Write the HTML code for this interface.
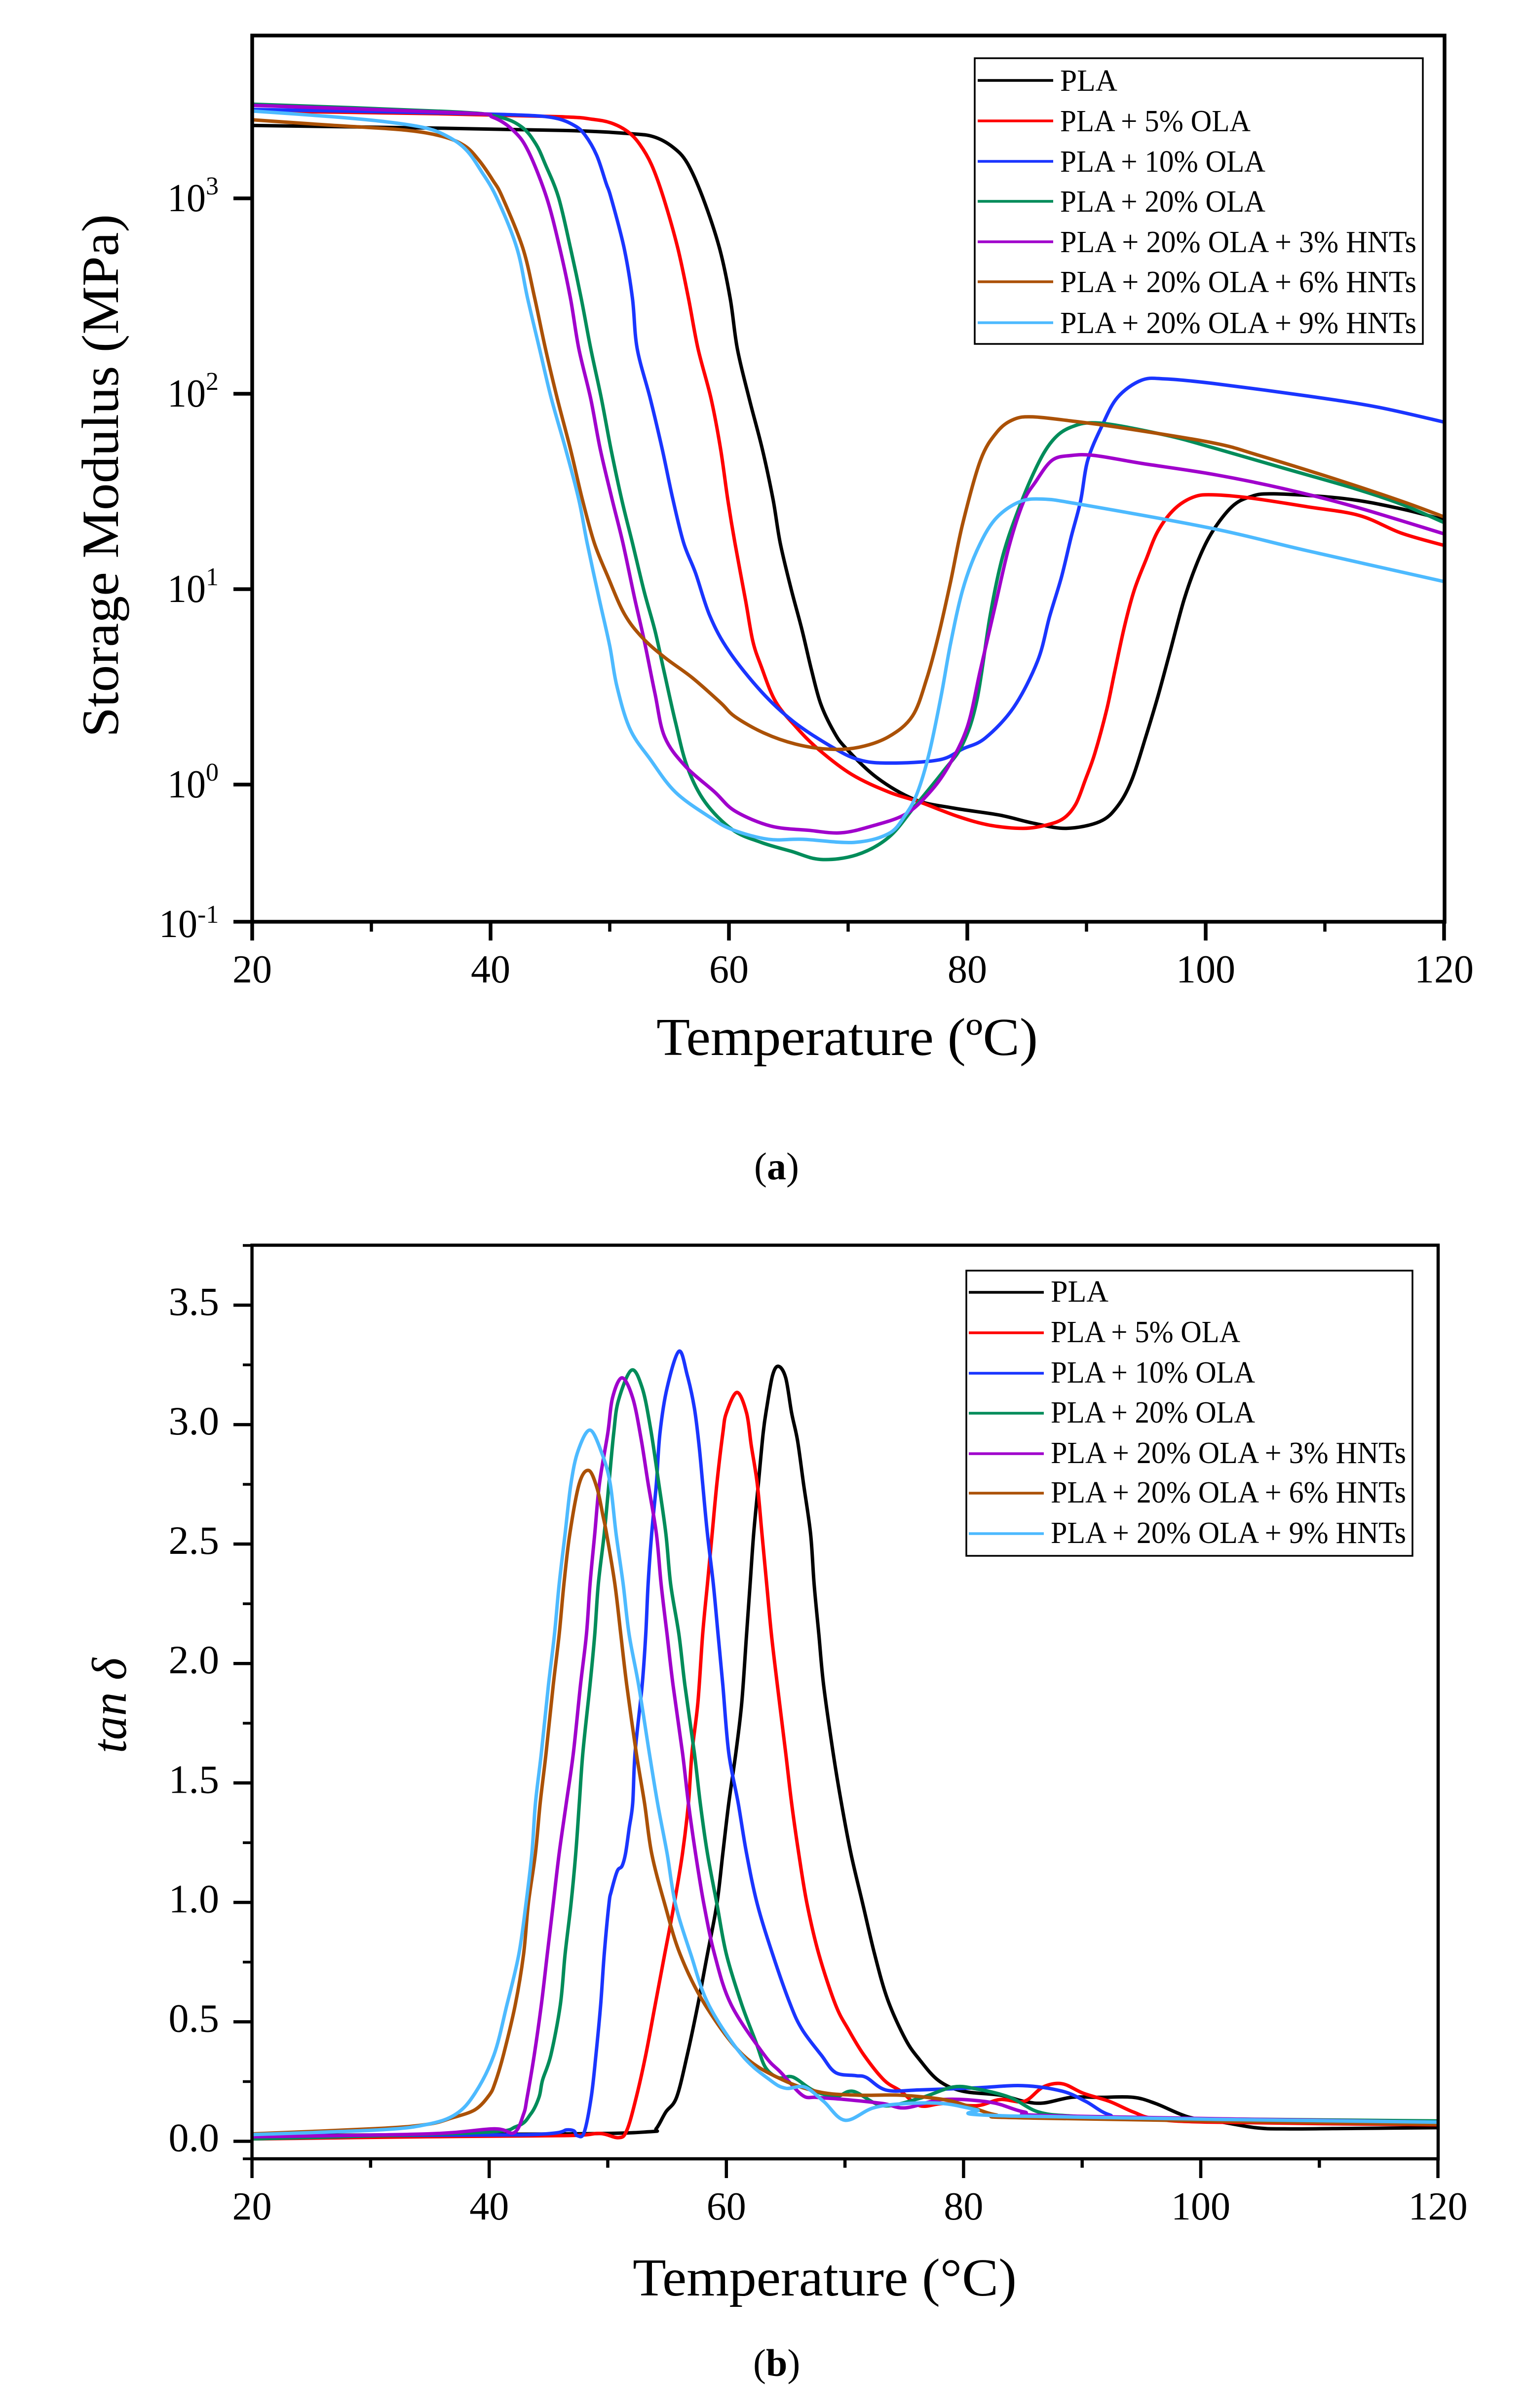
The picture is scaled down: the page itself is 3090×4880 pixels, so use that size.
<!DOCTYPE html>
<html lang="en">
<head>
<meta charset="utf-8">
<title>Storage modulus and tan delta versus temperature</title>
<style>
html,body{margin:0;padding:0;background:#fff;}
svg{display:block;}
text{font-family:"Liberation Serif",serif;fill:#000;}
</style>
</head>
<body>
<svg id="figure" xmlns="http://www.w3.org/2000/svg" width="3090" height="4880" viewBox="0 0 3090 4880">
  <rect x="0" y="0" width="3090" height="4880" fill="#fff"/>

  <g id="chartA"></g>
  <text x="1330" y="2138" font-size="108" textLength="773" lengthAdjust="spacingAndGlyphs">Temperature (ºC)</text>
  <text transform="translate(239 1494) rotate(-90)" font-size="106" textLength="1060" lengthAdjust="spacingAndGlyphs">Storage Modulus (MPa)</text>
  <g>
    <rect x="1975" y="118" width="908" height="579" fill="#fff" stroke="#000" stroke-width="3.5"/>
    <line x1="1981" x2="2134" y1="163" y2="163" stroke="#000000" stroke-width="5.5"/>
    <text x="2148" y="184" font-size="62" textLength="116" lengthAdjust="spacingAndGlyphs">PLA</text>
    <line x1="1981" x2="2134" y1="245" y2="245" stroke="#ff0000" stroke-width="5.5"/>
    <text x="2148" y="266" font-size="62" textLength="386" lengthAdjust="spacingAndGlyphs">PLA + 5% OLA</text>
    <line x1="1981" x2="2134" y1="327" y2="327" stroke="#1a35ff" stroke-width="5.5"/>
    <text x="2148" y="348" font-size="62" textLength="416" lengthAdjust="spacingAndGlyphs">PLA + 10% OLA</text>
    <line x1="1981" x2="2134" y1="408" y2="408" stroke="#008c5a" stroke-width="5.5"/>
    <text x="2148" y="429" font-size="62" textLength="416" lengthAdjust="spacingAndGlyphs">PLA + 20% OLA</text>
    <line x1="1981" x2="2134" y1="490" y2="490" stroke="#a000cc" stroke-width="5.5"/>
    <text x="2148" y="511" font-size="62" textLength="722" lengthAdjust="spacingAndGlyphs">PLA + 20% OLA + 3% HNTs</text>
    <line x1="1981" x2="2134" y1="571" y2="571" stroke="#ab5106" stroke-width="5.5"/>
    <text x="2148" y="592" font-size="62" textLength="722" lengthAdjust="spacingAndGlyphs">PLA + 20% OLA + 6% HNTs</text>
    <line x1="1981" x2="2134" y1="654" y2="654" stroke="#4dbaff" stroke-width="5.5"/>
    <text x="2148" y="675" font-size="62" textLength="722" lengthAdjust="spacingAndGlyphs">PLA + 20% OLA + 9% HNTs</text>
  </g>
  <text x="1528" y="2390" font-size="78">(<tspan font-weight="bold">a</tspan>)</text>

  <g id="chartB"></g>
  <text x="1282" y="4652" font-size="108" textLength="778" lengthAdjust="spacingAndGlyphs">Temperature (°C)</text>
  <text transform="translate(255 3553) rotate(-90)" font-size="100" font-style="italic" textLength="193" lengthAdjust="spacingAndGlyphs">tan δ</text>
  <g>
    <rect x="1958" y="2575" width="904" height="578" fill="#fff" stroke="#000" stroke-width="3.5"/>
    <line x1="1963" x2="2115" y1="2619" y2="2619" stroke="#000000" stroke-width="5.5"/>
    <text x="2129" y="2638" font-size="62" textLength="117" lengthAdjust="spacingAndGlyphs">PLA</text>
    <line x1="1963" x2="2115" y1="2701" y2="2701" stroke="#ff0000" stroke-width="5.5"/>
    <text x="2129" y="2720" font-size="62" textLength="384" lengthAdjust="spacingAndGlyphs">PLA + 5% OLA</text>
    <line x1="1963" x2="2115" y1="2783" y2="2783" stroke="#1a35ff" stroke-width="5.5"/>
    <text x="2129" y="2802" font-size="62" textLength="414" lengthAdjust="spacingAndGlyphs">PLA + 10% OLA</text>
    <line x1="1963" x2="2115" y1="2864" y2="2864" stroke="#008c5a" stroke-width="5.5"/>
    <text x="2129" y="2883" font-size="62" textLength="414" lengthAdjust="spacingAndGlyphs">PLA + 20% OLA</text>
    <line x1="1963" x2="2115" y1="2946" y2="2946" stroke="#a000cc" stroke-width="5.5"/>
    <text x="2129" y="2965" font-size="62" textLength="720" lengthAdjust="spacingAndGlyphs">PLA + 20% OLA + 3% HNTs</text>
    <line x1="1963" x2="2115" y1="3026" y2="3026" stroke="#ab5106" stroke-width="5.5"/>
    <text x="2129" y="3045" font-size="62" textLength="720" lengthAdjust="spacingAndGlyphs">PLA + 20% OLA + 6% HNTs</text>
    <line x1="1963" x2="2115" y1="3108" y2="3108" stroke="#4dbaff" stroke-width="5.5"/>
    <text x="2129" y="3127" font-size="62" textLength="720" lengthAdjust="spacingAndGlyphs">PLA + 20% OLA + 9% HNTs</text>
  </g>
  <text x="1526" y="4815" font-size="78">(<tspan font-weight="bold">b</tspan>)</text>
</svg>

<script>
// ---- Storage modulus: temperature (°C) and log10(E' / MPa) ----
const plaModT = [20,34.7,46.6,51.7,53.7,55.3,56.5,57.8,59.2,60.1,60.7,61.7,62.8,63.7,64.3,65.2,66.1,66.9,67.7,68.8,69.8,72.4,75.6,78.8,82.7,85.5,88.3,91.1,92.6,93.8,95,96,97,98.2,99.4,100.6,102.2,103.7,105.7,111.7,116.4,120];
const plaModLog = [3.373,3.36,3.347,3.331,3.315,3.262,3.181,3.005,2.747,2.49,2.232,1.975,1.717,1.459,1.237,1.005,.799,.593,.413,.271,.187,.036,-.077,-.12,-.156,-.197,-.224,-.19,-.111,.024,.25,.453,.678,.949,1.152,1.298,1.422,1.472,1.488,1.463,1.411,1.355];
const ola5ModT = [20,34.7,45.8,48.5,50.1,51.5,52.5,53.5,54.5,55.7,56.6,57.4,58.5,59.3,59.9,60.5,61.4,62,62.7,63.9,65.6,67.5,70.3,73.4,76,79.2,81.9,84.7,86.7,88.1,89.1,89.9,90.7,91.7,92.4,93.2,94,95,96,97.4,99,100.6,103.7,108.5,112.9,116.4,120];
const ola5ModLog = [3.447,3.434,3.418,3.405,3.386,3.342,3.278,3.173,3.005,2.747,2.49,2.232,1.975,1.717,1.459,1.237,.941,.735,.606,.426,.297,.181,.052,-.038,-.089,-.163,-.208,-.224,-.206,-.172,-.1,.024,.16,.385,.588,.813,.994,1.152,1.298,1.411,1.472,1.483,1.467,1.422,1.377,1.287,1.224];
const ola10ModT = [20,34.7,42.6,45.4,47,47.9,48.9,49.7,50.1,51.2,51.9,52.3,53.4,54.4,55.3,56.2,57.2,58.4,60,62.7,65.4,68.6,70.9,73.4,77.6,79.6,81.5,83.9,85.9,86.9,87.9,88.7,89.5,90.1,91.3,92.6,94.6,96.6,100.6,108.5,114.4,120];
const ola10ModLog = [3.455,3.439,3.426,3.411,3.374,3.326,3.221,3.076,3.005,2.747,2.49,2.232,1.975,1.717,1.459,1.237,1.082,.863,.683,.477,.323,.194,.127,.11,.126,.182,.238,.396,.633,.859,1.062,1.264,1.45,1.659,1.836,1.981,2.069,2.076,2.053,1.989,1.932,1.855];
const ola20ModT = [20,36.6,40.6,42.6,43.8,44.6,45.7,46.7,47.6,48.4,49.3,50.1,51,51.9,52.9,53.8,54.6,55.5,56.5,58,60.3,62.7,65.2,67.7,70.7,73.4,75.6,78,79.6,80.8,81.9,82.9,84.1,85.7,87.1,88.7,91.1,96.6,100.6,106.5,112.5,116.4,120];
const ola20ModLog = [3.482,3.444,3.418,3.366,3.278,3.173,3.005,2.747,2.49,2.232,1.975,1.717,1.459,1.237,.985,.786,.567,.323,.091,-.09,-.231,-.296,-.341,-.383,-.36,-.27,-.111,.069,.205,.43,.859,1.152,1.377,1.612,1.757,1.829,1.85,1.789,1.724,1.62,1.515,1.435,1.341];
const hnt3ModT = [20,37.8,40.2,42,43.2,44.7,45.8,46.7,47.4,48.4,49.2,50.2,51.1,52.1,52.9,53.8,54.6,56.3,58.8,60.5,63.5,66.7,69.4,72,74.8,76.8,78.4,80,81.1,82.3,83.5,84.7,85.7,87.1,88.7,90.7,94.6,100.6,106.5,112.5,120];
const hnt3ModLog = [3.476,3.437,3.415,3.342,3.237,3.005,2.747,2.49,2.232,1.975,1.717,1.459,1.237,.95,.735,.464,.245,.097,-.038,-.135,-.212,-.234,-.247,-.212,-.152,-.043,.092,.295,.588,.904,1.219,1.445,1.547,1.659,1.684,1.684,1.644,1.588,1.515,1.422,1.283];
const hnt6ModT = [20,26.7,32.7,35.9,37.8,39,40.2,41,42.7,43.7,44.6,45.6,46.7,47.7,48.7,49.8,51.2,52.7,54.6,56.9,59.3,60.5,62.9,65.6,68.4,70.9,73.4,75.4,76.6,77.6,78.6,79.6,81.1,82.5,83.9,85.5,88.7,92.6,100.6,104.5,111.3,116.4,120];
const hnt6ModLog = [3.402,3.374,3.35,3.318,3.27,3.197,3.092,3.005,2.747,2.49,2.232,1.975,1.717,1.459,1.237,1.07,.876,.754,.651,.548,.419,.348,.265,.207,.181,.191,.245,.351,.543,.768,1.039,1.332,1.659,1.805,1.869,1.882,1.861,1.829,1.749,1.684,1.555,1.451,1.37];
const hnt9ModT = [20,26.7,31.5,34.7,36.6,38,39.2,40.5,42.2,43.1,44.1,45.1,46.3,47.4,48.1,49.1,50,50.6,51.7,53.4,55.5,58.4,60.3,63.3,66.2,70.5,73.4,74.8,75.8,76.8,77.8,78.6,79.6,80.8,82.3,84.3,86.3,89.5,100.6,108.5,120];
const hnt9ModLog = [3.447,3.418,3.39,3.358,3.31,3.245,3.141,3.005,2.747,2.49,2.232,1.975,1.717,1.459,1.237,.954,.709,.503,.284,.129,-.038,-.167,-.231,-.28,-.28,-.296,-.251,-.156,-.043,.16,.453,.723,.994,1.197,1.355,1.445,1.461,1.434,1.31,1.197,1.039];

// ---- tan delta: temperature (°C) and value ----
const plaTanT = [20,46.7,53.5,54.1,54.9,55.8,56.7,57.6,58.4,59.2,59.7,60.2,60.8,61.3,61.7,62,62.3,62.7,63.1,63.4,63.9,64.4,65,65.5,66,66.5,67.1,67.4,67.8,68.2,69,69.7,70.5,71.5,72.5,73.6,75.1,76.3,77.9,79.9,83.1,85.1,86.7,89.1,91.5,94.3,96.2,99,101.8,104.6,107,113,120];
const plaTanV = [.024,.031,.04,.054,.123,.184,.361,.572,.783,.994,1.205,1.415,1.626,1.837,2.121,2.332,2.543,2.754,2.964,3.07,3.207,3.244,3.196,3.049,2.933,2.754,2.543,2.332,2.121,1.91,1.626,1.415,1.205,.994,.783,.593,.427,.341,.254,.21,.193,.167,.16,.184,.184,.184,.158,.101,.08,.057,.052,.054,.057];
const ola5TanT = [20,34.8,46.7,49.3,50.9,51.6,52.4,53.2,54,54.8,55.6,56.3,56.8,57.1,57.6,58,58.4,58.8,59.2,59.7,60,60.9,61.7,62.1,62.6,63,63.4,63.8,64.3,65,65.5,66.1,66.8,67.8,69.2,70.3,71.6,73.3,74.7,76.3,78.3,81.1,83.1,85.1,86.7,88.3,90.1,92.3,94.3,96.2,101,120];
const ola5TanV = [.01,.019,.024,.033,.015,.045,.184,.361,.572,.783,.994,1.205,1.415,1.626,1.837,2.121,2.332,2.543,2.754,2.964,3.049,3.135,3.049,2.912,2.754,2.543,2.332,2.121,1.91,1.626,1.415,1.205,.994,.783,.572,.467,.361,.256,.21,.149,.158,.149,.175,.167,.227,.241,.201,.167,.123,.094,.08,.069];
const ola10TanT = [20,42.7,46.7,47.4,48,48.6,49,49.4,49.7,50.1,50.3,50.8,51.2,51.5,51.8,52.1,52.3,52.9,53.2,53.4,53.7,54.1,54.4,55,56,56.7,57.3,57.7,58,58.4,58.9,59.3,59.7,60.2,61,61.7,62.6,63.9,65.4,66.4,68,69.2,70.9,71.8,73.5,76.3,81.1,85,88.3,90.3,92.3,95,120];
const ola10TanV = [.024,.027,.048,.024,.036,.184,.361,.572,.783,.994,1.047,1.131,1.152,1.205,1.31,1.415,1.626,1.91,2.121,2.332,2.543,2.754,2.964,3.154,3.307,3.207,3.07,2.912,2.754,2.543,2.332,2.121,1.91,1.626,1.415,1.205,.994,.783,.572,.467,.361,.288,.275,.267,.214,.215,.224,.233,.21,.167,.111,.097,.08];
const ola20TanT = [20,38.8,42.3,43.5,44.2,44.5,45.2,46,46.4,46.9,47.3,47.6,47.9,48.5,48.9,49.2,49.7,50.1,50.5,50.9,52,52.9,53.6,54.3,54.9,55.3,56,56.5,57.3,57.8,58.4,59.2,60,61.3,62.5,63.3,64.4,65.6,67.3,69.2,70.7,73.2,76.3,79.1,81.1,83.9,86.3,89.1,95,120];
const ola20TanV = [.01,.036,.062,.114,.184,.256,.361,.572,.783,.994,1.205,1.415,1.626,1.91,2.121,2.332,2.543,2.754,2.964,3.101,3.228,3.154,2.986,2.754,2.543,2.332,2.121,1.91,1.626,1.415,1.205,.994,.783,.572,.414,.309,.266,.269,.214,.187,.209,.149,.18,.227,.219,.184,.123,.106,.097,.085];
const hnt3TanT = [20,34.8,40.4,42.1,42.9,43.2,43.8,44.4,44.9,45.4,45.9,46.5,47.1,47.7,48.2,48.5,48.9,49.3,50,50.4,51.2,52.1,52.8,53.4,54.1,54.5,55,55.5,56.3,56.8,57.4,58.1,59,60.4,63.2,64.6,66.4,67.6,70,73.2,75.1,78.3,82.3,85.1,88.3,120];
const hnt3TanV = [.019,.031,.052,.036,.114,.184,.361,.572,.783,.994,1.205,1.415,1.626,1.91,2.121,2.332,2.543,2.754,2.964,3.112,3.196,3.112,2.943,2.754,2.543,2.332,2.121,1.91,1.626,1.415,1.205,.994,.783,.572,.361,.288,.193,.184,.175,.158,.14,.175,.163,.123,.106,.08];
const hnt6TanT = [20,30.8,34.8,36.8,38.8,40,40.5,41.2,42.2,42.9,43.3,43.9,44.3,44.8,45.4,45.9,46.3,46.8,47.6,48.4,49.1,49.6,49.9,50.6,51.1,51.6,52.4,53.1,53.7,54.8,56.1,58.2,61.4,64.8,68,71.2,74.7,78.3,80.3,82.7,85.9,120];
const hnt6TanV = [.031,.054,.071,.097,.132,.193,.245,.361,.572,.783,.994,1.205,1.415,1.626,1.91,2.121,2.332,2.543,2.754,2.808,2.733,2.617,2.543,2.332,2.121,1.91,1.626,1.415,1.205,.994,.783,.572,.361,.256,.205,.193,.193,.175,.149,.111,.097,.071];
const hnt9TanT = [20,30.8,34.8,37.2,38.8,40.4,41.5,42.5,43.1,43.6,43.9,44.4,45,45.5,45.9,46.4,46.9,47.5,48.5,49.5,50.2,50.7,51.3,51.8,52.6,53.5,54.2,55,55.7,57,58.5,61.3,63.7,65,66.6,68.2,70,72.4,75.1,78.3,81.1,83.9,120];
const hnt9TanV = [.028,.048,.071,.114,.201,.361,.572,.783,.994,1.205,1.415,1.626,1.91,2.121,2.332,2.543,2.754,2.891,2.977,2.88,2.754,2.543,2.332,2.121,1.91,1.626,1.415,1.205,.994,.783,.572,.361,.256,.222,.227,.167,.088,.14,.158,.158,.132,.106,.08];

// ---- Ticks ----
const xMajorTicks = [20,40,60,80,100,120];
const xMinorTicks = [30,50,70,90,110];
const modTickLogs = [3,2,1,0,-0.702];
const modTickExponents = ['3','2','1','0','-1'];
const tanMajorTicks = [0,0.5,1,1.5,2,2.5,3,3.5];
const tanTickLabels = ['0.0','0.5','1.0','1.5','2.0','2.5','3.0','3.5'];
const tanMinorTicks = [-0.0733,0.25,0.75,1.25,1.75,2.25,2.75,3.25,3.75];

const modSeriesList = [
  ['pla','#000000',plaModT,plaModLog],
  ['5-ola','#ff0000',ola5ModT,ola5ModLog],
  ['10-ola','#1a35ff',ola10ModT,ola10ModLog],
  ['20-ola','#008c5a',ola20ModT,ola20ModLog],
  ['3-hnts','#a000cc',hnt3ModT,hnt3ModLog],
  ['6-hnts','#ab5106',hnt6ModT,hnt6ModLog],
  ['9-hnts','#4dbaff',hnt9ModT,hnt9ModLog]
];
const tanSeriesList = [
  ['pla','#000000',plaTanT,plaTanV],
  ['5-ola','#ff0000',ola5TanT,ola5TanV],
  ['10-ola','#1a35ff',ola10TanT,ola10TanV],
  ['20-ola','#008c5a',ola20TanT,ola20TanV],
  ['3-hnts','#a000cc',hnt3TanT,hnt3TanV],
  ['6-hnts','#ab5106',hnt6TanT,hnt6TanV],
  ['9-hnts','#4dbaff',hnt9TanT,hnt9TanV]
];

// ---- Axis functions ----
function modX(t){ return 511 + (t - 20) * 24.15; }
function modY(l){ return 1590 - 396 * l; }
function tanX(t){ return 510.6 + (t - 20) * 24.03; }
function tanY(v){ return 4339.5 - 484.14 * v; }

const NS = 'http://www.w3.org/2000/svg';
function make(tag, attrs, parent, content){
  const el = document.createElementNS(NS, tag);
  for (const k in attrs) el.setAttribute(k, attrs[k]);
  if (content !== undefined) el.textContent = content;
  parent.appendChild(el);
  return el;
}
function curve(ts, vs, fx, fy){
  const p = ts.map(function(t, i){ return [fx(t), fy(vs[i])]; });
  let d = 'M' + p[0][0].toFixed(1) + ' ' + p[0][1].toFixed(1);
  for (let i = 0; i < p.length - 1; i++){
    const a = p[Math.max(i - 1, 0)], b = p[i], c = p[i + 1], e = p[Math.min(i + 2, p.length - 1)];
    const k = 1 / 6;
    const c1x = b[0] + (c[0] - a[0]) * k, c1y = b[1] + (c[1] - a[1]) * k;
    const c2x = c[0] - (e[0] - b[0]) * k, c2y = c[1] - (e[1] - b[1]) * k;
    d += 'C' + c1x.toFixed(1) + ' ' + c1y.toFixed(1) + ' ' + c2x.toFixed(1) + ' ' + c2y.toFixed(1) + ' ' + c[0].toFixed(1) + ' ' + c[1].toFixed(1);
  }
  return d;
}

// ---- Storage modulus chart ----
const gA = document.getElementById('chartA');
modSeriesList.forEach(function(s){
  const el = make('path', {d: curve(s[2], s[3], modX, modY), fill: 'none', stroke: s[1], 'stroke-width': 7, 'stroke-linejoin': 'round'}, gA);
  
  
});
const frameA = make('rect', {x: 511, y: 72, width: 2416, height: 1796, fill: 'none', stroke: '#000', 'stroke-width': 7.5}, gA);


xMajorTicks.forEach(function(t){
  const x = modX(t);
  const tick = make('line', {x1: x, x2: x, y1: 1868, y2: 1906, stroke: '#000', 'stroke-width': 7.5}, gA);
  
  
  const label = make('text', {x: x, y: 1991, 'font-size': 80, 'text-anchor': 'middle'}, gA, String(t));
  
  
});
xMinorTicks.forEach(function(t){
  const x = modX(t);
  const tick = make('line', {x1: x, x2: x, y1: 1868, y2: 1888, stroke: '#000', 'stroke-width': 6.5}, gA);
  
  
});
modTickLogs.forEach(function(l, i){
  const y = modY(l);
  const negative = modTickExponents[i].charAt(0) === '-';
  const tick = make('line', {x1: 473, x2: 511, y1: y, y2: y, stroke: '#000', 'stroke-width': 7.5}, gA);
  
  
  const base = make('text', {x: negative ? 322 : 339, y: y + (negative ? 31 : 26), 'font-size': 80, textLength: 78, lengthAdjust: 'spacingAndGlyphs'}, gA, '10');
  
  
  const exp = make('text', {x: negative ? 400 : 417, y: y + (negative ? 2 : -8), 'font-size': 52}, gA, modTickExponents[i]);
  
  
});

// ---- tan delta chart ----
const gB = document.getElementById('chartB');
tanSeriesList.forEach(function(s){
  const el = make('path', {d: curve(s[2], s[3], tanX, tanY), fill: 'none', stroke: s[1], 'stroke-width': 7, 'stroke-linejoin': 'round'}, gB);
  
  
});
const frameB = make('rect', {x: 510.6, y: 2523.5, width: 2403.4, height: 1851.5, fill: 'none', stroke: '#000', 'stroke-width': 6.5}, gB);


xMajorTicks.forEach(function(t){
  const x = tanX(t);
  const tick = make('line', {x1: x, x2: x, y1: 4375, y2: 4414, stroke: '#000', 'stroke-width': 6.5}, gB);
  
  
  const label = make('text', {x: x, y: 4498, 'font-size': 80, 'text-anchor': 'middle'}, gB, String(t));
  
  
});
xMinorTicks.forEach(function(t){
  const x = tanX(t);
  const tick = make('line', {x1: x, x2: x, y1: 4375, y2: 4393, stroke: '#000', 'stroke-width': 6.5}, gB);
  
  
});
tanMajorTicks.forEach(function(v, i){
  const y = tanY(v);
  const tick = make('line', {x1: 473, x2: 510.6, y1: y, y2: y, stroke: '#000', 'stroke-width': 6.5}, gB);
  
  
  const label = make('text', {x: 444, y: y + 20, 'font-size': 82, 'text-anchor': 'end'}, gB, tanTickLabels[i]);
  
  
});
tanMinorTicks.forEach(function(v){
  const y = tanY(v);
  const tick = make('line', {x1: 492, x2: 510.6, y1: y, y2: y, stroke: '#000', 'stroke-width': 5.5}, gB);
  
  
});
</script>
</body>
</html>
